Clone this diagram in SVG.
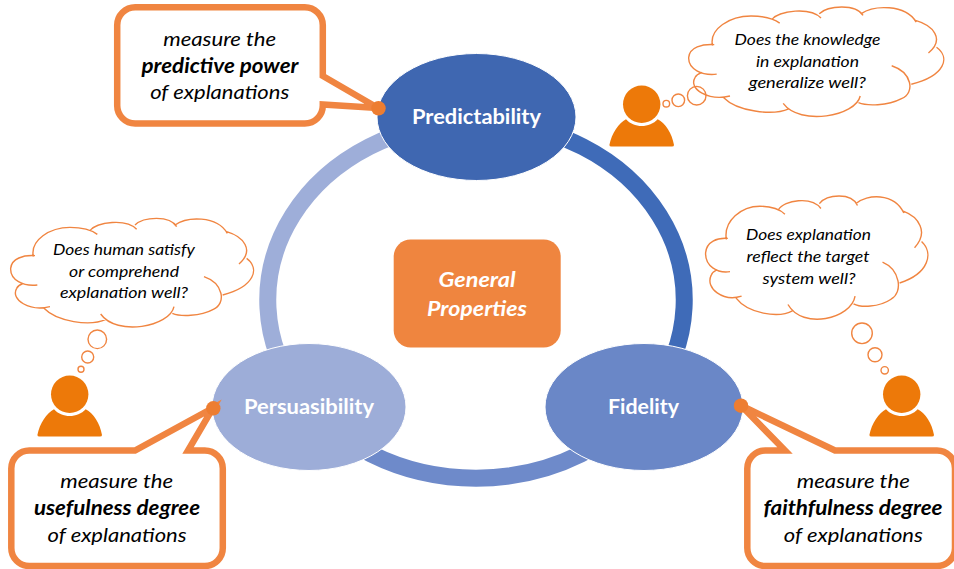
<svg xmlns="http://www.w3.org/2000/svg" width="954" height="569" viewBox="0 0 954 569">
<style>
text{font-family:Lato,"Liberation Sans",sans-serif;text-anchor:middle}
.ring{fill:none;stroke-width:17}
.node{stroke:#fff;stroke-width:1}
.lbl{fill:#fff;font-weight:700;font-size:21px}
.callout{fill:#fff;stroke:#F08541;stroke-width:6.5;stroke-linejoin:miter}
.dot{fill:#ED7D31}
.ct{fill:#000;font-style:italic;font-size:20px}
.b{font-weight:700}
.th{fill:#000;font-style:italic;font-size:15px}
.cloud{fill:none;stroke:#F08541;stroke-width:1.4;vector-effect:non-scaling-stroke}
.bub{fill:none;stroke:#F08541;stroke-width:1.4}
.person{fill:#ED7909}
</style>
<defs>
<path id="cl" class="cloud" d="M100 200C90 150 150 112 210 112C245 112 275 120 292 133M270 122C290 95 380 85 410 118M405 105C430 80 510 75 530 110M525 105C560 80 650 75 682 130M680 125C730 140 765 180 717 222M740 205C780 235 765 290 668 315M612 260C670 280 680 340 640 358C600 380 540 380 517 370M522 350C510 410 350 440 302 372M318 388C270 410 170 395 132 355M150 350C90 365 30 330 50 295C55 285 65 282 70 280M112 285C70 290 30 270 32 235C35 205 70 195 105 197"/>
<g id="pr">
<circle r="18.7"/>
<path d="M-32.3 40.7C-30 29-23 19-15.7 15C-8 24 8 24 16 15C23.7 19 30.3 29 32.3 40.7Q32.3 42.3 30.3 42.3L-30.3 42.3Q-32.3 42.3-32.3 40.7Z"/>
</g>
</defs>
<rect width="954" height="569" fill="#fff"/>
<g id="connectors">
<path class="ring" stroke="#3F6BB8" d="M476 121.5A208.5 178.5 0 0 1 650 398"/>
<path class="ring" stroke="#6E8ACA" d="M650 398A208.5 178.5 0 0 1 302 398"/>
<path class="ring" stroke="#9EAED9" d="M302 398A208.5 178.5 0 0 1 476 121.5"/>
</g>
<g id="node-predictability">
<ellipse class="node" cx="476.5" cy="117" rx="99.5" ry="63.5" fill="#3F67B1"/>
<text class="lbl" x="476.5" y="124" textLength="129" lengthAdjust="spacingAndGlyphs">Predictability</text>
</g>
<g id="node-persuasibility">
<ellipse class="node" cx="309" cy="407" rx="97" ry="63.5" fill="#9DADD8"/>
<text class="lbl" x="309" y="414" textLength="130" lengthAdjust="spacingAndGlyphs">Persuasibility</text>
</g>
<g id="node-fidelity">
<ellipse class="node" cx="644" cy="407" rx="99" ry="63.5" fill="#6A87C7"/>
<text class="lbl" x="643.5" y="414" textLength="71" lengthAdjust="spacingAndGlyphs">Fidelity</text>
</g>
<g id="node-general">
<rect x="393.7" y="239.5" width="167" height="108" rx="17" fill="#EF853F"/>
<text class="lbl" style="font-style:italic" x="477" y="287" textLength="77" lengthAdjust="spacingAndGlyphs">General</text>
<text class="lbl" style="font-style:italic" x="477" y="316" textLength="100" lengthAdjust="spacingAndGlyphs">Properties</text>
</g>
<g id="callout-predictive">
<path class="callout" d="M136 7.3H304.8a18 18 0 0 1 18 18V76L378 108L322.8 104.5V105.5a18 18 0 0 1-18 18H135.2a18 18 0 0 1-18-18V25.3a18 18 0 0 1 18-18Z"/>
<circle class="dot" cx="378.5" cy="108.3" r="7.2"/>
<text class="ct" x="219.7" y="46" textLength="113" lengthAdjust="spacingAndGlyphs">measure the</text>
<text class="ct b" x="220" y="72.7" textLength="157" lengthAdjust="spacingAndGlyphs">predictive power</text>
<text class="ct" x="219.7" y="99" textLength="139" lengthAdjust="spacingAndGlyphs">of explanations</text>
</g>
<g id="callout-usefulness">
<path class="callout" d="M29.3 450.5H135L213 408L188 450.5H204.8a18 18 0 0 1 18 18V548a18 18 0 0 1-18 18H29.3a18 18 0 0 1-18-18V468.5a18 18 0 0 1 18-18Z"/>
<circle class="dot" cx="213.3" cy="408.3" r="7.2"/>
<text class="ct" x="116.7" y="488" textLength="113" lengthAdjust="spacingAndGlyphs">measure the</text>
<text class="ct b" x="117" y="515" textLength="166" lengthAdjust="spacingAndGlyphs">usefulness degree</text>
<text class="ct" x="117" y="541.7" textLength="139" lengthAdjust="spacingAndGlyphs">of explanations</text>
</g>
<g id="callout-faithfulness">
<path class="callout" d="M765.3 450.5H785L741 405.5L835 450.5H937a18 18 0 0 1 18 18V548a18 18 0 0 1-18 18H765.3a18 18 0 0 1-18-18V468.5a18 18 0 0 1 18-18Z"/>
<circle class="dot" cx="741" cy="405.7" r="7.2"/>
<text class="ct" x="853.3" y="488" textLength="113" lengthAdjust="spacingAndGlyphs">measure the</text>
<text class="ct b" x="853" y="515" textLength="179" lengthAdjust="spacingAndGlyphs">faithfulness degree</text>
<text class="ct" x="853.3" y="541.7" textLength="139" lengthAdjust="spacingAndGlyphs">of explanations</text>
</g>
<g id="thought-left">
<use href="#cl" transform="translate(0 190) scale(.3333)"/>
<circle class="bub" cx="97.3" cy="339.3" r="9.3"/><circle class="bub" cx="87.7" cy="357" r="6"/><circle class="bub" cx="81" cy="369.3" r="3"/>
<use href="#pr" class="person" x="69.7" y="394.3"/>
<text class="th" x="124" y="255" textLength="142" lengthAdjust="spacingAndGlyphs">Does human satisfy</text>
<text class="th" x="124" y="277" textLength="110" lengthAdjust="spacingAndGlyphs">or comprehend</text>
<text class="th" x="124" y="297.7" textLength="128" lengthAdjust="spacingAndGlyphs">explanation well?</text>
</g>
<g id="thought-top">
<use href="#cl" transform="translate(677.5 -21.6) scale(.35 .336)"/>
<circle class="bub" cx="696.7" cy="95.7" r="9.3"/><circle class="bub" cx="678.3" cy="100.3" r="6.3"/><circle class="bub" cx="666.3" cy="103.7" r="3.3"/>
<use href="#pr" class="person" x="641.7" y="104.3"/>
<text class="th" x="807.5" y="45" textLength="146" lengthAdjust="spacingAndGlyphs">Does the knowledge</text>
<text class="th" x="807.5" y="66.7" textLength="103" lengthAdjust="spacingAndGlyphs">in explanation</text>
<text class="th" x="807.3" y="87.7" textLength="117" lengthAdjust="spacingAndGlyphs">generalize well?</text>
</g>
<g id="thought-right">
<use href="#cl" transform="translate(695.85 163.9) scale(.305 .378)"/>
<circle class="bub" cx="862" cy="333.3" r="10.3"/><circle class="bub" cx="875" cy="354.7" r="7"/><circle class="bub" cx="884.7" cy="370.3" r="3.7"/>
<use href="#pr" class="person" x="901.7" y="394.3"/>
<text class="th" x="808.5" y="240" textLength="125" lengthAdjust="spacingAndGlyphs">Does explanation</text>
<text class="th" x="808" y="262" textLength="123" lengthAdjust="spacingAndGlyphs">reflect the target</text>
<text class="th" x="809" y="284" textLength="93" lengthAdjust="spacingAndGlyphs">system well?</text>
</g>
</svg>
